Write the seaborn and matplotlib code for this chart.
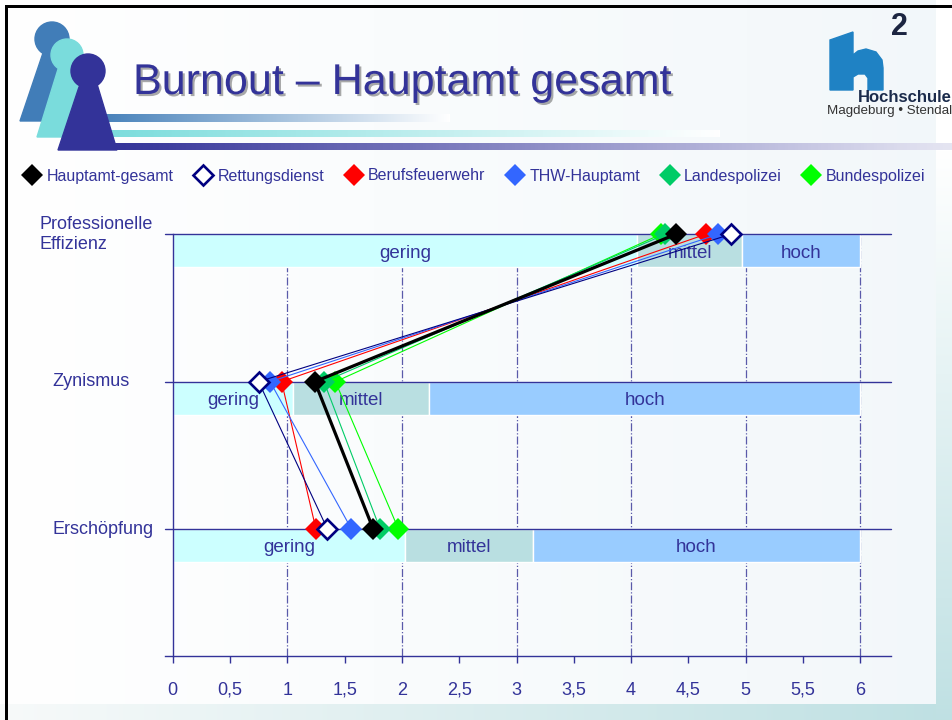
import numpy as np
import pandas as pd
import matplotlib
matplotlib.use("Agg")
import matplotlib.pyplot as plt
import matplotlib.patheffects as pe
import matplotlib.transforms as mtransforms
from matplotlib.lines import Line2D
from matplotlib.patches import Polygon, Circle
import seaborn as sns

# --- Daten -------------------------------------------------------------
dimensionen = ["Professionelle\nEffizienz", "Zynismus", "Erschöpfung"]
gruppen = ["Hauptamt-gesamt", "Rettungsdienst", "Berufsfeuerwehr",
           "THW-Hauptamt", "Landespolizei", "Bundespolizei"]
hauptamt_gesamt = [4.39, 1.24, 1.75]
rettungsdienst = [4.87, 0.75, 1.35]
berufsfeuerwehr = [4.65, 0.95, 1.25]
thw_hauptamt = [4.76, 0.85, 1.56]
landespolizei = [4.30, 1.32, 1.81]
bundespolizei = [4.26, 1.42, 1.97]

# Normbereiche je Dimension (Grenzen gering | mittel | hoch)
stufen = ["gering", "mittel", "hoch"]
grenzen_effizienz = [0, 4.05, 4.97, 6]
grenzen_zynismus = [0, 1.05, 2.24, 6]
grenzen_erschoepfung = [0, 2.03, 3.14, 6]

x_ticks = [0, 0.5, 1, 1.5, 2, 2.5, 3, 3.5, 4, 4.5, 5, 5.5, 6]
x_labels = ["0", "0,5", "1", "1,5", "2", "2,5", "3", "3,5", "4", "4,5", "5", "5,5", "6"]

# --- Stil --------------------------------------------------------------
sns.set_style("white")
plt.rcParams["font.family"] = ["Liberation Sans", "DejaVu Sans"]

navy = "#333399"
farben = {"Hauptamt-gesamt": "#000000", "Rettungsdienst": "#000080",
          "Berufsfeuerwehr": "#FF0000", "THW-Hauptamt": "#3366FF",
          "Landespolizei": "#00CC66", "Bundespolizei": "#00FF00"}
band_farben = ["#CCFFFF", "#B9DFE1", "#99CCFF"]

werte = dict(zip(gruppen, [hauptamt_gesamt, rettungsdienst, berufsfeuerwehr,
                           thw_hauptamt, landespolizei, bundespolizei]))
ypos = [len(dimensionen) - 1 - i for i in range(len(dimensionen))]
rows = []
for g, vals in werte.items():
    for d, y, v in zip(dimensionen, ypos, vals):
        rows.append({"Gruppe": g, "Dimension": d, "pos": y, "Wert": v})
df = pd.DataFrame(rows)

W, H = 953, 720
fig = plt.figure(figsize=(W / 100, H / 100), dpi=100)

# --- Folienhintergrund ---------------------------------------------------
bg = fig.add_axes([0, 0, 1, 1])
img = np.ones((H, W, 3))
xs = np.linspace(0, 1, W)
inner = np.array([1.0, 1.0, 1.0])[None, :] * (1 - xs[:, None]) + np.array([0.95, 0.97, 0.98])[None, :] * xs[:, None]
img[:, :, :] = inner[None, :, :]
teal = np.array([0.75, 0.88, 0.89])
ys = np.clip((np.arange(H) - 150) / (H - 150), 0, 1)
img[:, 936:, :] = (np.ones(3)[None, :] * (1 - ys[:, None]) + teal[None, :] * ys[:, None])[:, None, :]
xb = np.linspace(0, 1, 936)
img[704:, :936, :] = (np.array([0.97, 0.98, 0.98])[None, :] * (1 - xb[:, None]) + teal[None, :] * xb[:, None])[None, :, :]
img[5:8, 5:, :] = 0
img[5:, 5:8, :] = 0
bg.imshow(img, extent=(0, W, H, 0), aspect="auto", zorder=0)


def verlauf(x0, x1, y0, y1, farbe, end=(1, 1, 1)):
    n = 256
    t = np.linspace(0, 1, n)
    c0 = np.array(matplotlib.colors.to_rgb(farbe))
    c1 = np.array(end)
    arr = (c0[None, :] * (1 - t[:, None]) + c1[None, :] * t[:, None])[None, :, :]
    bg.imshow(arr, extent=(x0, x1, y1, y0), aspect="auto", zorder=1)


verlauf(90, 450, 114, 122, "#417DB8")
verlauf(100, 720, 130, 137, "#7ADCDC")
verlauf(110, 953, 143, 150, "#333399", end=(0.9, 0.9, 0.95))

# Spielfiguren
for (cx, cy, r, body, col) in [
    (52, 39, 17, [(44, 50), (60, 50), (62, 121), (20, 121)], "#417DB8"),
    (67, 55, 16, [(59, 66), (76, 66), (82, 137), (37, 137)], "#7ADCDC"),
    (88, 71, 17, [(80, 84), (97, 84), (117, 150), (58, 150)], "#333399"),
]:
    bg.add_patch(Polygon(body, closed=True, color=col, zorder=2))
    bg.add_patch(Circle((cx, cy), r, color=col, zorder=2))

# Titel
bg.text(133, 83, "Burnout – Hauptamt gesamt", fontsize=31, color=navy,
        ha="left", va="center", zorder=3,
        path_effects=[pe.withSimplePatchShadow(offset=(1.5, -1.5), shadow_rgbFace="#555555", alpha=0.5)])

# Hochschul-Logo
h_form = [(830, 40), (853, 32), (853, 55), (858, 51), (866, 49), (876, 52), (882, 60),
          (883, 68), (883, 90), (868, 90), (868, 78), (865, 74), (858, 74), (853, 77),
          (853, 90), (830, 90)]
bg.add_patch(Polygon(h_form, closed=True, color="#1F82C4", zorder=2))
bg.text(899, 27, "2", fontsize=22, fontweight="bold", color="#1C2541", ha="center", va="center", zorder=3)
bg.text(952, 97, "Hochschule", fontsize=12, fontweight="bold", color="#1B2B4B", ha="right", va="center", zorder=3)
bg.text(952, 111, "Magdeburg • Stendal", fontsize=9.6, color="#333333", ha="right", va="center", zorder=3)

bg.set_xlim(0, W)
bg.set_ylim(H, 0)
bg.axis("off")

# --- Diagramm ----------------------------------------------------------
ax = fig.add_axes([165 / W, 1 - 655.5 / H, (890.7 - 165) / W, (655.5 - 234.3) / H])
ax.set_facecolor("none")
ax.set_xlim(-0.067, 6.265)
ax.set_ylim(-0.858, 2)

ax.vlines(np.arange(1, 7), -0.858, 2, colors="#5A5AAA", linestyles="-.", lw=0.9, zorder=1)

band_h = 0.224
for y, grenzen in zip(ypos, [grenzen_effizienz, grenzen_zynismus, grenzen_erschoepfung]):
    for k, stufe in enumerate(stufen):
        links, rechts = grenzen[k], grenzen[k + 1]
        ax.barh(y - band_h / 2, rechts - links, left=links, height=band_h,
                color=band_farben[k], zorder=2)
        ax.text((links + rechts) / 2, y - band_h / 2 - 0.015, stufe, ha="center", va="center",
                color=navy, fontsize=13.5, zorder=3)
    ax.axhline(y, color=navy, lw=1, zorder=2.5, clip_on=False)

stil = {
    "Bundespolizei": dict(lw=0.8, mfc=farben["Bundespolizei"], mew=0),
    "Landespolizei": dict(lw=0.8, mfc=farben["Landespolizei"], mew=0),
    "Berufsfeuerwehr": dict(lw=0.8, mfc=farben["Berufsfeuerwehr"], mew=0),
    "THW-Hauptamt": dict(lw=0.8, mfc=farben["THW-Hauptamt"], mew=0),
    "Rettungsdienst": dict(lw=0.8, mfc="white", mew=1.9),
    "Hauptamt-gesamt": dict(lw=2.3, mfc=farben["Hauptamt-gesamt"], mew=0),
}
for z, g in enumerate(stil):
    s = stil[g]
    sns.lineplot(data=df[df["Gruppe"] == g], x="Wert", y="pos", sort=False,
                 estimator=None, color=farben[g], lw=s["lw"], marker="D",
                 markersize=11 if s["mew"] == 0 else 10,
                 markerfacecolor=s["mfc"], markeredgecolor=farben[g],
                 markeredgewidth=s["mew"], clip_on=False, zorder=4 + z,
                 legend=False, ax=ax)

ax.set_xlabel("")
ax.set_ylabel("")
ax.set_xticks(x_ticks)
ax.set_xticklabels(x_labels)
ax.set_yticks([])
for s in ["top", "right"]:
    ax.spines[s].set_visible(False)
ax.spines["left"].set_position(("data", 0))
for s in ["left", "bottom"]:
    ax.spines[s].set_color(navy)
    ax.spines[s].set_linewidth(1)
ax.tick_params(axis="x", direction="out", length=5, width=1, color=navy,
               labelcolor=navy, labelsize=13, pad=14, bottom=True)

trans = mtransforms.blended_transform_factory(fig.transFigure, ax.transData)
for d, y, xpx in zip(dimensionen, ypos, [40, 52, 53]):
    ax.text(xpx / W, y, d, transform=trans, ha="left", va="center",
            color=navy, fontsize=13, linespacing=1.2, clip_on=False)

# Legende
handles = [Line2D([], [], ls="none", marker="D", markersize=11 if g != "Rettungsdienst" else 10,
                  markerfacecolor=("white" if g == "Rettungsdienst" else farben[g]),
                  markeredgecolor=farben[g], markeredgewidth=(1.9 if g == "Rettungsdienst" else 0))
           for g in gruppen]
fig.legend(handles, gruppen, loc="center left", bbox_to_anchor=(25 / W, 1 - 176 / H),
           ncol=6, frameon=False, fontsize=11.5, handlelength=0.9, handletextpad=0.45,
           columnspacing=1.4, borderpad=0, borderaxespad=0, labelcolor=navy)

fig.savefig("out.png", dpi=100)
